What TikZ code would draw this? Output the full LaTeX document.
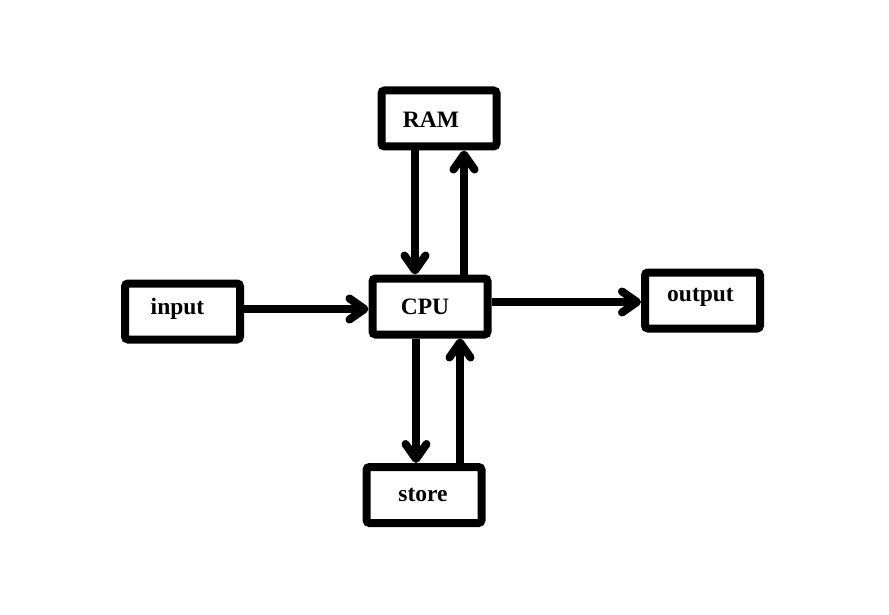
\documentclass[tikz,border=0pt]{standalone}
\usepackage{fontspec}
\setmainfont{Liberation Serif}
\usetikzlibrary{arrows.meta}
\begin{document}
\begin{tikzpicture}[x=1pt,y=-1pt,
  box/.style={draw,line width=8pt,rounded corners=3pt,minimum width=115pt,minimum height=56pt,inner sep=0pt},
  lbl/.style={font=\fontsize{23.5}{27}\selectfont\bfseries},
  arr/.style={line width=7.5pt,-{Straight Barb[length=15pt,width=21pt,line width=8pt,line cap=round,line join=round]}}]
\useasboundingbox (0,0) rectangle (889,615);
\node[box,label={[lbl,xshift=-8pt,yshift=-1pt]center:RAM}] (ram) at (439,118.5) {};
\node[box,label={[lbl,xshift=-5pt]center:CPU}] (cpu) at (430,306.5) {};
\node[box,label={[lbl,xshift=-5pt,yshift=3pt]center:input}] (in) at (182.5,311.5) {};
\node[box,label={[lbl,xshift=-2pt,yshift=3pt]center:output}] (out) at (702.5,300.5) {};
\node[box,label={[lbl,xshift=-1pt]center:store}] (st) at (424,495) {};
\draw[arr] (ram.south -| 415,0) -- (cpu.north -| 415,0);
\draw[arr] (cpu.north -| 464,0) -- (ram.south -| 464,0);
\draw[arr] (cpu.south -| 416,0) -- (st.north -| 416,0);
\draw[arr] (st.north -| 460,0) -- (cpu.south -| 460,0);
\draw[arr] (in.east |- 0,309) -- (cpu.west |- 0,309);
\draw[arr] (cpu.east |- 0,302) -- (out.west |- 0,302);
\end{tikzpicture}
\end{document}
